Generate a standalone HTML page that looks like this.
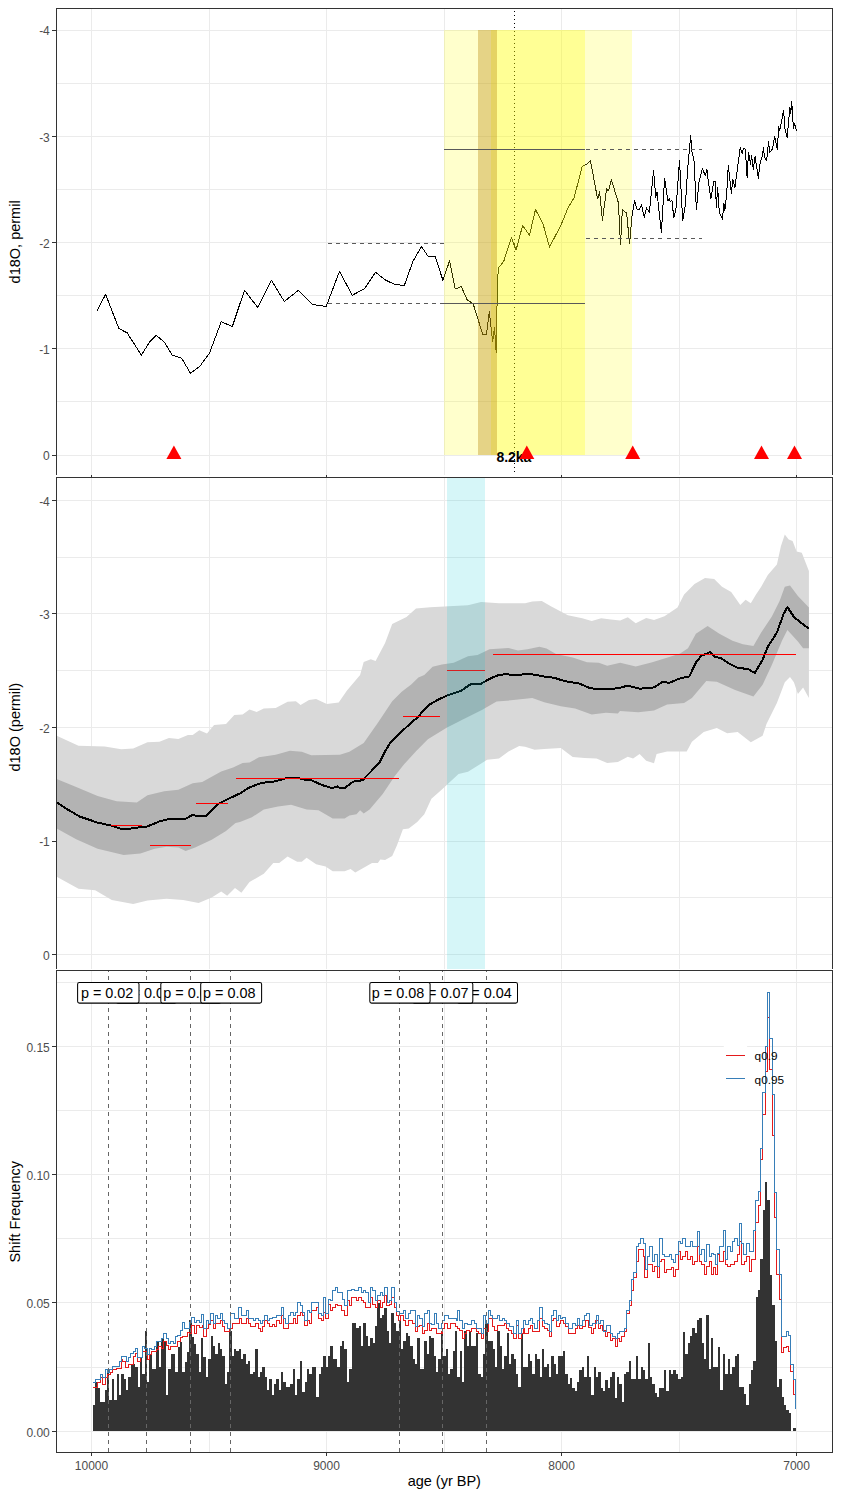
<!DOCTYPE html>
<html lang="en"><head><meta charset="utf-8"><title>d18O shift frequency</title>
<style>html,body{margin:0;padding:0;background:#fff}body{width:841px;height:1498px;overflow:hidden}svg{display:block}</style></head>
<body>
<svg width="841" height="1498" viewBox="0 0 841 1498" font-family='"Liberation Sans", Arial, sans-serif'>
<rect width="841" height="1498" fill="#fff"/>
<defs>
<clipPath id="c1"><rect x="56.5" y="8.5" width="776.0" height="466.5"/></clipPath>
<clipPath id="c2"><rect x="56.5" y="477.5" width="776.0" height="491.5"/></clipPath>
<clipPath id="c3"><rect x="56.5" y="970.5" width="776.0" height="482.0"/></clipPath>
</defs>
<g clip-path="url(#c1)" fill="none" stroke="#ebebeb" stroke-width="1" shape-rendering="crispEdges">
<path d="M56.5 455.5H832.5"/>
<path d="M56.5 401.5H832.5"/>
<path d="M56.5 348.5H832.5"/>
<path d="M56.5 295.5H832.5"/>
<path d="M56.5 242.5H832.5"/>
<path d="M56.5 189.5H832.5"/>
<path d="M56.5 136.5H832.5"/>
<path d="M56.5 83.5H832.5"/>
<path d="M56.5 30.5H832.5"/>
<path d="M209.5 8.5V475"/>
<path d="M444.5 8.5V475"/>
<path d="M679.5 8.5V475"/>
<path d="M91.5 8.5V475"/>
<path d="M326.5 8.5V475"/>
<path d="M561.5 8.5V475"/>
<path d="M796.5 8.5V475"/>
</g>
<g clip-path="url(#c1)">
<polyline points="97.2,310.5 105.6,294.4 118.9,328.6 127.1,332.8 141.4,355.2 149.4,342.3 156.2,335.4 164.6,342.3 172.2,355.2 181.7,358.3 190.5,373.3 200,366.1 209.5,353 221.3,321.6 232.3,326.7 244.5,290.2 257.7,307.5 271.4,280.3 284.3,301.4 298.4,290.4 312.3,304.1 317.1,305.4 326.2,306.4 339.5,271.4 352.3,295.3 364.6,288.5 375.5,272.3 385.5,280.1 394.5,284.3 404.3,285.5 412.8,261.7 421.4,246.5 428.6,257 435.3,256.4 442.9,280.4 449.6,260.8 455.3,289 461.3,286.5 467.1,299.8 473.1,303.6 482.7,334.4 486.5,334.4 489.3,311.2 492.7,341.7 494.5,327.4 496.2,353.1 497.5,277.9 498.8,267.5 503.8,261.2 511.4,237.6 516.1,250 522.6,225.6 529.5,235.1 535.5,209.4 543.2,224.6 549.5,247.1 560.9,225.2 568.2,207.5 574.2,197.6 582.2,166.2 586.6,164.3 590.4,160.3 597.6,199 599.6,191.9 602.4,220.3 606.6,188.9 608.5,190.8 611.3,179.9 614.2,188.9 618.4,202.8 620.5,244.6 622.4,209.4 626.6,213.2 629.6,243.7 632.1,215.1 634.6,200.9 637,208.9 639.3,209.8 641.4,204.7 644.3,217.4 646.5,207.9 649.4,212.3 653.6,170.4 655.7,197.1 657,192.3 661.4,232.3 664.6,178.6 667.9,200.9 669.4,199 670.3,201.4 671.9,199.9 673.8,218 676,208.5 679.5,160.3 682.7,220.8 685.5,203.7 687.4,172.3 690.7,135.2 691.8,151.5 693.9,158.7 696.4,209.5 698.9,182.7 702.5,168.5 705.2,175.6 706.9,169.4 707.8,177.4 710.9,199.1 713.7,181.8 715.3,181.8 716.4,207.7 717.6,187.2 719.4,213.1 722.5,219.3 723.9,203.3 724.8,210.4 726.6,195.2 728.3,165.3 731.4,193.4 732.8,179.2 734.9,187.7 740.3,147.4 742.1,153.3 743.5,148.5 745.3,149.2 747.1,177.4 748.5,152.4 750.6,164.9 751.5,155.1 753.3,169.4 755.1,156.3 758.3,178.3 760.1,163.1 762.2,156 763.5,148 764.6,157.8 766.7,160.4 768.5,141.7 769.9,152.4 772.4,148.9 774.7,136.4 777.4,149.7 778.6,126.6 779.7,131 783.6,110.5 784.9,128.3 787.2,137.3 789.9,106.9 790.8,113.2 791.7,101.1 793.4,128.3 794.3,123 796.5,130.7" fill="none" stroke="#000" stroke-width="1" stroke-linejoin="round" shape-rendering="crispEdges"/>
<path d="M514.5 472V8.5" stroke="#000" stroke-width="1" stroke-dasharray="1 3" fill="none" shape-rendering="crispEdges"/>
<g shape-rendering="crispEdges">
<rect x="444" y="30" width="188" height="425" fill="#ffff00" fill-opacity="0.2"/>
<rect x="491" y="30" width="94" height="425" fill="#ffff00" fill-opacity="0.27"/>
<rect x="478" y="30" width="19" height="425" fill="#b8860b" fill-opacity="0.36"/>
</g>
<g stroke="#595959" stroke-width="1" fill="none" shape-rendering="crispEdges">
<path d="M444 149.5H585"/>
<path d="M444 303.5H585"/>
<path d="M328 243.5H444" stroke-dasharray="4 4"/>
<path d="M328 303.5H444" stroke-dasharray="4 4"/>
<path d="M586 149.5H702" stroke-dasharray="4 4.05"/>
<path d="M586 238.5H702" stroke-dasharray="4 4.05"/>
</g>
<text x="513.9" y="461.8" font-size="14" font-weight="bold" text-anchor="middle" fill="#000">8.2ka</text>
<path d="M173.9 445.6L181.4 459H166.4Z" fill="#ff0000"/>
<path d="M526.8 445.6L534.3 459H519.3Z" fill="#ff0000"/>
<path d="M632.7 445.6L640.2 459H625.2Z" fill="#ff0000"/>
<path d="M761.5 445.6L769 459H754Z" fill="#ff0000"/>
<path d="M794.5 445.6L802 459H787Z" fill="#ff0000"/>
</g>
<path d="M56.5 475V8.5H832.5V475" fill="none" stroke="#333333" stroke-width="1" shape-rendering="crispEdges"/>
<g stroke="#333333" stroke-width="1" shape-rendering="crispEdges">
<path d="M52 455.5H56.5"/>
<path d="M52 348.5H56.5"/>
<path d="M52 242.5H56.5"/>
<path d="M52 136.5H56.5"/>
<path d="M52 30.5H56.5"/>
<path d="M91.5 475V477.5"/>
<path d="M326.5 475V477.5"/>
<path d="M561.5 475V477.5"/>
<path d="M796.5 475V477.5"/>
</g>
<g font-size="12" fill="#4d4d4d" text-anchor="end">
<text x="49.8" y="460.25">0</text>
<text x="49.8" y="354.05">-1</text>
<text x="49.8" y="247.85">-2</text>
<text x="49.8" y="141.65">-3</text>
<text x="49.8" y="35.45">-4</text>
</g>
<text transform="translate(19.7 241.9) rotate(-90)" font-size="14.5" text-anchor="middle" fill="#000">d18O, permil</text>
<g clip-path="url(#c2)" fill="none" stroke="#ebebeb" stroke-width="1" shape-rendering="crispEdges">
<path d="M56.5 954.5H832.5"/>
<path d="M56.5 897.5H832.5"/>
<path d="M56.5 841.5H832.5"/>
<path d="M56.5 784.5H832.5"/>
<path d="M56.5 727.5H832.5"/>
<path d="M56.5 670.5H832.5"/>
<path d="M56.5 613.5H832.5"/>
<path d="M56.5 557.5H832.5"/>
<path d="M56.5 500.5H832.5"/>
<path d="M209.5 477.5V969"/>
<path d="M444.5 477.5V969"/>
<path d="M679.5 477.5V969"/>
<path d="M91.5 477.5V969"/>
<path d="M326.5 477.5V969"/>
<path d="M561.5 477.5V969"/>
<path d="M796.5 477.5V969"/>
</g>
<g clip-path="url(#c2)">
<polygon points="56.7,735.8 78.5,745.8 104.7,746.5 121.3,749.3 133.2,748.4 147.5,742.2 159.4,741.7 168.9,738.1 178.4,738.9 187.9,735.1 192.7,735.1 199.3,730.3 207,733.4 214.1,725.1 226,723.9 234.3,715.1 242.6,714.4 249.5,709.6 256.6,712 263.8,708.4 275.7,707.9 287.6,701.8 295.9,701.3 300.6,704.9 309,700.1 316.1,698.9 326.8,704.1 338.7,702.5 347,690.6 360.1,675.1 363.7,662 370.8,659.2 375.6,660.9 385.1,643 392.2,624 406.5,616.9 416,608.5 430.2,607.3 453.8,605.9 468,605.2 481.1,602.1 499,603.3 525.1,603.3 532.3,601.6 541.8,601.1 551.3,606.4 567.9,615.2 582.2,618.3 591.7,621.1 601.2,618.3 610.7,619.5 620.2,620.6 627.8,617.3 635.7,623.3 646.2,618.1 654,619.9 664.5,616.3 677.5,607.6 684.1,594.5 694.5,584.1 705,578.1 714.2,578.9 722,586.7 731.2,591.9 740.3,605 745.6,599.8 750.8,603.2 756,594.5 761.2,586.7 767.8,574.9 776.9,564.5 780.9,546.2 784.8,534.4 788.7,539.6 792.6,540.9 796.6,551.4 801.8,552.7 808.9,571 808.9,697.9 803.1,687.4 797.9,693.9 793.9,682.2 790,676.9 784.8,682.2 776.9,703.1 766.5,724 762.6,735.8 750.8,742.3 737.7,731.9 727.2,733.2 716.8,728 703.7,731.9 691.9,741.8 686.7,751.5 667.1,751.5 656.6,754.1 654,763.3 646.2,760.7 639.6,754.1 633.1,758.6 627.8,756.7 617.9,762.1 607.2,762.9 596.5,758.6 584.6,757.9 572.7,756.9 560.8,747.9 544.2,749.1 534.6,749.8 525.1,746.7 519.2,746 508.5,751.4 499,758.6 487.1,759.8 468,771.7 458.5,774 441.9,789.5 431.4,798.8 424.3,814.2 417.2,822.1 408.8,828.5 402.9,829.2 397,845.2 392.2,855.9 385.1,860.1 380.3,859.4 377.9,863 372,863 363.7,867.8 355.3,872.5 350.6,868.9 344.6,871.3 332.7,871.3 325.6,866.6 316.1,864.2 306.6,857.8 301.8,861.8 297.1,861.8 287.6,856.6 279.2,863 273.3,863 263.8,873.7 249.5,882 241.4,892.7 235,888 227.2,895.8 221.2,891.5 211.7,897.5 198.6,902.9 183.2,899.9 166.5,898.7 147.5,900.6 133.2,903.9 111.8,899.9 95.2,890.3 78.5,888.7 56.7,876.8" fill="#d9d9d9"/>
<polygon points="56.7,779 76.2,786.9 97.6,795.9 116.6,801.2 136.8,802.4 147.5,795.2 164.2,791.2 178.4,789.8 192.7,783.3 202.2,782.1 221.2,771.4 233.1,767.4 242.6,763.1 249.5,762.6 259,757.2 275.7,754.8 289.9,750.8 301.8,751.7 311.3,755.3 339.9,754.8 349.4,751.7 363.7,742.9 377.9,722.7 392.2,701.3 401.7,691.8 411.2,684.6 418.4,677.5 424.3,675.1 432.6,666.8 441.9,664.6 453.8,662.7 468,656.3 477.6,655.1 489.5,649.2 508.5,648 518,650.4 527.5,649.2 539.4,646.8 546.5,648.5 556,653.9 572.7,657.5 587,662.3 598.8,662.7 607.2,665.8 620.2,662.7 635.7,666.5 651.4,662.6 664.5,658.6 680.2,653.4 688,648.2 695.9,633.8 707.6,625.9 719.4,633.8 732.5,640.8 742.9,644.2 753.4,646.1 761.2,632.5 771.7,616.8 779.6,601.1 784.8,586.7 790,585.4 797.9,595.9 808.9,607.6 808.9,648.2 803.1,648.2 797.9,641.6 787.4,629.9 782.2,640.3 771.7,665.2 762.6,684.8 753.4,696.6 735.1,690 716.8,681.7 706.3,680.9 691.9,697.9 684.1,703.1 667.1,704.4 654,710.4 638.3,712.3 620,710.9 617.9,713.4 606,712.7 591.7,714.6 575.1,708.6 560.8,706.3 544.2,702.2 532.3,697.9 510.9,700.3 496.6,701.5 482.3,709.8 463.3,719.3 446.6,727.7 427.9,739.3 416,751.2 404.1,764.3 394.6,776.2 382.7,794 369.6,809.5 363.7,813.5 360.1,810.2 356.5,814.2 349.4,815.4 344.6,818.5 332.7,818.5 318.5,810.2 306.6,809.5 291.1,804.7 278,806.4 263.8,809.5 251.9,817.3 240,822.1 235.5,823 226,830.9 211.7,839.7 195.1,847.5 185.6,851.1 178.4,847.5 166.5,846.8 154.6,848.7 140.4,853.5 123.7,855.1 97.6,848.7 76.2,839.2 56.7,828.5" fill="#b3b3b3"/>
<polyline points="56.7,802.4 66.6,808.8 79.7,816.6 97.6,822.6 111.8,825.7 121.3,829 128.5,829 134.4,827.8 146.3,826.8 152.3,824.5 159.4,821.4 168.9,819 186.7,818.5 192,815 197.4,815.9 206.5,815.9 212.9,808.8 218.8,803.5 228.4,798.8 240.2,793.3 249.5,787.4 261.4,782.9 273.3,781.7 287.6,777.9 298.3,777.9 301.8,779.3 311.3,780.2 322,785 331.6,788.1 337.5,786.4 339.9,788.1 344.6,788.1 353,781.7 362.5,780.2 379.1,763.1 385.1,751.2 389.8,743.6 397,735.8 411.2,722.7 418.4,716.7 423.1,710.8 430.2,704.1 437.1,700.3 446.6,695.6 460.9,690.8 470.4,684.4 479.9,684.4 489.5,678.9 497.8,675.3 506.1,674.1 515.6,675.3 525.1,674.1 534.6,674.6 544.2,676.5 553.7,677.7 565.6,681.3 579.8,683.7 590.5,688.4 603.6,688.9 617.9,688.4 627.8,685.6 639.6,688.7 654,687.4 661.9,682.2 669.7,682.7 680.2,678.3 689.3,676.4 695.9,662.6 701.1,656 710.2,652.1 714.2,656.5 720.7,658.1 728.6,663.3 737.7,667.8 748.2,669.1 754.7,673 762.6,659.9 767.8,646.9 776.9,632.5 783.5,614.2 787.4,607.1 793.9,616.8 800.5,622.5 808.9,628.6" fill="none" stroke="#000" stroke-width="2" stroke-linejoin="round" shape-rendering="crispEdges"/>
<path d="M110.6 825.5H141.6" stroke="#ff0000" stroke-width="1" shape-rendering="crispEdges"/>
<path d="M149.9 845.5H190.8" stroke="#ff0000" stroke-width="1" shape-rendering="crispEdges"/>
<path d="M195.8 803.5H227.9" stroke="#ff0000" stroke-width="1" shape-rendering="crispEdges"/>
<path d="M236.2 778.5H398.9" stroke="#ff0000" stroke-width="1" shape-rendering="crispEdges"/>
<path d="M402.9 716.5H440.0" stroke="#ff0000" stroke-width="1" shape-rendering="crispEdges"/>
<path d="M447.1 670.5H484.9" stroke="#ff0000" stroke-width="1" shape-rendering="crispEdges"/>
<path d="M493.0 654.5H795.8" stroke="#ff0000" stroke-width="1" shape-rendering="crispEdges"/>
<rect x="447" y="470" width="38" height="510" fill="#00c5d6" fill-opacity="0.16" shape-rendering="crispEdges"/>
</g>
<path d="M56.5 969V477.5H832.5V969" fill="none" stroke="#333333" stroke-width="1" shape-rendering="crispEdges"/>
<g stroke="#333333" stroke-width="1" shape-rendering="crispEdges">
<path d="M52 954.5H56.5"/>
<path d="M52 841.5H56.5"/>
<path d="M52 727.5H56.5"/>
<path d="M52 613.5H56.5"/>
<path d="M52 500.5H56.5"/>
</g>
<g font-size="12" fill="#4d4d4d" text-anchor="end">
<text x="49.8" y="959.8">0</text>
<text x="49.8" y="846.25">-1</text>
<text x="49.8" y="732.7">-2</text>
<text x="49.8" y="619.15">-3</text>
<text x="49.8" y="505.6">-4</text>
</g>
<text transform="translate(19.6 727.2) rotate(-90)" font-size="14.5" text-anchor="middle" fill="#000">d18O (permil)</text>
<g clip-path="url(#c3)" fill="none" stroke="#ebebeb" stroke-width="1" shape-rendering="crispEdges">
<path d="M56.5 1431.5H832.5"/>
<path d="M56.5 1367.5H832.5"/>
<path d="M56.5 1302.5H832.5"/>
<path d="M56.5 1238.5H832.5"/>
<path d="M56.5 1174.5H832.5"/>
<path d="M56.5 1110.5H832.5"/>
<path d="M56.5 1046.5H832.5"/>
<path d="M56.5 982.5H832.5"/>
<path d="M209.5 970.5V1452.5"/>
<path d="M444.5 970.5V1452.5"/>
<path d="M679.5 970.5V1452.5"/>
<path d="M91.5 970.5V1452.5"/>
<path d="M326.5 970.5V1452.5"/>
<path d="M561.5 970.5V1452.5"/>
<path d="M796.5 970.5V1452.5"/>
</g>
<g clip-path="url(#c3)">
<path d="M93 1430.8v-25.4h2.37v25.4zM95.35 1430.8v-49.23h2.37v49.23zM97.7 1430.8v-43.24h2.37v43.24zM100.05 1430.8v-28.54h2.37v28.54zM102.4 1430.8v-28.54h2.37v28.54zM104.75 1430.8v-40.38h2.37v40.38zM107.1 1430.8v-62.07h2.37v62.07zM109.45 1430.8v-30.68h2.37v30.68zM111.8 1430.8v-51.37h2.37v51.37zM114.15 1430.8v-30.68h2.37v30.68zM116.5 1430.8v-56.36h2.37v56.36zM118.85 1430.8v-35.67h2.37v35.67zM121.2 1430.8v-56.36h2.37v56.36zM123.55 1430.8v-51.37h2.37v51.37zM125.9 1430.8v-40.38h2.37v40.38zM128.25 1430.8v-53.51h2.37v53.51zM130.6 1430.8v-65.64h2.37v65.64zM132.95 1430.8v-66.35h2.37v66.35zM135.3 1430.8v-63.5h2.37v63.5zM137.65 1430.8v-43.52h2.37v43.52zM140 1430.8v-73.49h2.37v73.49zM142.35 1430.8v-56.36h2.37v56.36zM144.7 1430.8v-99.89h2.37v99.89zM147.05 1430.8v-48.52h2.37v48.52zM149.4 1430.8v-75.63h2.37v75.63zM151.75 1430.8v-61.36h2.37v61.36zM154.1 1430.8v-61.36h2.37v61.36zM156.45 1430.8v-89.18h2.37v89.18zM158.8 1430.8v-63.5h2.37v63.5zM161.15 1430.8v-92.04h2.37v92.04zM163.5 1430.8v-89.18h2.37v89.18zM165.85 1430.8v-35.67h2.37v35.67zM168.2 1430.8v-61.36h2.37v61.36zM170.55 1430.8v-76.34h2.37v76.34zM172.9 1430.8v-76.34h2.37v76.34zM175.25 1430.8v-58.5h2.37v58.5zM177.6 1430.8v-84.19h2.37v84.19zM179.95 1430.8v-89.18h2.37v89.18zM182.3 1430.8v-58.5h2.37v58.5zM184.65 1430.8v-69.21h2.37v69.21zM187 1430.8v-79.2h2.37v79.2zM189.35 1430.8v-110.59h2.37v110.59zM191.7 1430.8v-94.18h2.37v94.18zM194.05 1430.8v-87.04h2.37v87.04zM196.4 1430.8v-76.34h2.37v76.34zM198.75 1430.8v-58.5h2.37v58.5zM201.1 1430.8v-92.32h2.37v92.32zM203.45 1430.8v-74.2h2.37v74.2zM205.8 1430.8v-54.08h2.37v54.08zM208.15 1430.8v-71.63h2.37v71.63zM210.5 1430.8v-94.46h2.37v94.46zM212.85 1430.8v-84.47h2.37v84.47zM215.2 1430.8v-76.91h2.37v76.91zM217.55 1430.8v-87.33h2.37v87.33zM219.9 1430.8v-81.62h2.37v81.62zM222.25 1430.8v-74.77h2.37v74.77zM224.6 1430.8v-46.95h2.37v46.95zM226.95 1430.8v-58.79h2.37v58.79zM229.3 1430.8v-100.17h2.37v100.17zM231.65 1430.8v-74.77h2.37v74.77zM234 1430.8v-81.62h2.37v81.62zM236.35 1430.8v-79.48h2.37v79.48zM238.7 1430.8v-81.62h2.37v81.62zM241.05 1430.8v-71.63h2.37v71.63zM243.4 1430.8v-76.63h2.37v76.63zM245.75 1430.8v-66.64h2.37v66.64zM248.1 1430.8v-69.49h2.37v69.49zM250.45 1430.8v-56.65h2.37v56.65zM252.8 1430.8v-58.79h2.37v58.79zM255.15 1430.8v-81.62h2.37v81.62zM257.5 1430.8v-53.8h2.37v53.8zM259.85 1430.8v-58.79h2.37v58.79zM262.2 1430.8v-63.5h2.37v63.5zM264.55 1430.8v-53.8h2.37v53.8zM266.9 1430.8v-40.95h2.37v40.95zM269.25 1430.8v-51.66h2.37v51.66zM271.6 1430.8v-35.96h2.37v35.96zM273.95 1430.8v-46.66h2.37v46.66zM276.3 1430.8v-51.66h2.37v51.66zM278.65 1430.8v-40.95h2.37v40.95zM281 1430.8v-58.79h2.37v58.79zM283.35 1430.8v-48.8h2.37v48.8zM285.7 1430.8v-43.81h2.37v43.81zM288.05 1430.8v-43.81h2.37v43.81zM290.4 1430.8v-46.95h2.37v46.95zM292.75 1430.8v-61.64h2.37v61.64zM295.1 1430.8v-35.96h2.37v35.96zM297.45 1430.8v-51.66h2.37v51.66zM299.8 1430.8v-69.49h2.37v69.49zM302.15 1430.8v-38.81h2.37v38.81zM304.5 1430.8v-48.8h2.37v48.8zM306.85 1430.8v-61.64h2.37v61.64zM309.2 1430.8v-56.65h2.37v56.65zM311.55 1430.8v-63.5h2.37v63.5zM313.9 1430.8v-63.5h2.37v63.5zM316.25 1430.8v-33.82h2.37v33.82zM318.6 1430.8v-56.65h2.37v56.65zM320.95 1430.8v-63.5h2.37v63.5zM323.3 1430.8v-74.77h2.37v74.77zM325.65 1430.8v-63.78h2.37v63.78zM328 1430.8v-74.77h2.37v74.77zM330.35 1430.8v-84.47h2.37v84.47zM332.7 1430.8v-71.63h2.37v71.63zM335.05 1430.8v-71.63h2.37v71.63zM337.4 1430.8v-63.78h2.37v63.78zM339.75 1430.8v-84.47h2.37v84.47zM342.1 1430.8v-89.9h2.37v89.9zM344.45 1430.8v-81.62h2.37v81.62zM346.8 1430.8v-48.8h2.37v48.8zM349.15 1430.8v-61.64h2.37v61.64zM351.5 1430.8v-107.59h2.37v107.59zM353.85 1430.8v-107.59h2.37v107.59zM356.2 1430.8v-103.03h2.37v103.03zM358.55 1430.8v-104.74h2.37v104.74zM360.9 1430.8v-84.47h2.37v84.47zM363.25 1430.8v-107.59h2.37v107.59zM365.6 1430.8v-94.46h2.37v94.46zM367.95 1430.8v-84.47h2.37v84.47zM370.3 1430.8v-92.61h2.37v92.61zM372.65 1430.8v-87.76h2.37v87.76zM375 1430.8v-104.74h2.37v104.74zM377.35 1430.8v-128.28h2.37v128.28zM379.7 1430.8v-112.59h2.37v112.59zM382.05 1430.8v-115.44h2.37v115.44zM384.4 1430.8v-122.57h2.37v122.57zM386.75 1430.8v-99.46h2.37v99.46zM389.1 1430.8v-87.76h2.37v87.76zM391.45 1430.8v-117.58h2.37v117.58zM393.8 1430.8v-107.59h2.37v107.59zM396.15 1430.8v-99.46h2.37v99.46zM398.5 1430.8v-110.16h2.37v110.16zM400.85 1430.8v-81.62h2.37v81.62zM403.2 1430.8v-89.9h2.37v89.9zM405.55 1430.8v-97.6h2.37v97.6zM407.9 1430.8v-94.46h2.37v94.46zM410.25 1430.8v-84.47h2.37v84.47zM412.6 1430.8v-71.63h2.37v71.63zM414.95 1430.8v-66.64h2.37v66.64zM417.3 1430.8v-92.61h2.37v92.61zM419.65 1430.8v-61.64h2.37v61.64zM422 1430.8v-61.64h2.37v61.64zM424.35 1430.8v-89.9h2.37v89.9zM426.7 1430.8v-76.63h2.37v76.63zM429.05 1430.8v-94.46h2.37v94.46zM431.4 1430.8v-92.61h2.37v92.61zM433.75 1430.8v-74.77h2.37v74.77zM436.1 1430.8v-58.79h2.37v58.79zM438.45 1430.8v-71.63h2.37v71.63zM440.8 1430.8v-100.17h2.37v100.17zM443.15 1430.8v-74.77h2.37v74.77zM445.5 1430.8v-81.62h2.37v81.62zM447.85 1430.8v-56.65h2.37v56.65zM450.2 1430.8v-61.64h2.37v61.64zM452.55 1430.8v-79.48h2.37v79.48zM454.9 1430.8v-99.46h2.37v99.46zM457.25 1430.8v-53.8h2.37v53.8zM459.6 1430.8v-79.48h2.37v79.48zM461.95 1430.8v-48.8h2.37v48.8zM464.3 1430.8v-99.46h2.37v99.46zM466.65 1430.8v-84.47h2.37v84.47zM469 1430.8v-99.46h2.37v99.46zM471.35 1430.8v-84.47h2.37v84.47zM473.7 1430.8v-84.47h2.37v84.47zM476.05 1430.8v-97.6h2.37v97.6zM478.4 1430.8v-56.65h2.37v56.65zM480.75 1430.8v-53.8h2.37v53.8zM483.1 1430.8v-76.63h2.37v76.63zM485.45 1430.8v-107.59h2.37v107.59zM487.8 1430.8v-89.9h2.37v89.9zM490.15 1430.8v-89.9h2.37v89.9zM492.5 1430.8v-81.62h2.37v81.62zM494.85 1430.8v-63.78h2.37v63.78zM497.2 1430.8v-99.46h2.37v99.46zM499.55 1430.8v-84.47h2.37v84.47zM501.9 1430.8v-61.64h2.37v61.64zM504.25 1430.8v-74.77h2.37v74.77zM506.6 1430.8v-97.6h2.37v97.6zM508.95 1430.8v-66.64h2.37v66.64zM511.3 1430.8v-76.63h2.37v76.63zM513.65 1430.8v-71.63h2.37v71.63zM516 1430.8v-56.65h2.37v56.65zM518.35 1430.8v-43.81h2.37v43.81zM520.7 1430.8v-97.6h2.37v97.6zM523.05 1430.8v-63.78h2.37v63.78zM525.4 1430.8v-63.78h2.37v63.78zM527.75 1430.8v-76.63h2.37v76.63zM530.1 1430.8v-69.49h2.37v69.49zM532.45 1430.8v-56.65h2.37v56.65zM534.8 1430.8v-76.63h2.37v76.63zM537.15 1430.8v-71.63h2.37v71.63zM539.5 1430.8v-53.8h2.37v53.8zM541.85 1430.8v-81.62h2.37v81.62zM544.2 1430.8v-63.78h2.37v63.78zM546.55 1430.8v-66.64h2.37v66.64zM548.9 1430.8v-53.8h2.37v53.8zM551.25 1430.8v-74.77h2.37v74.77zM553.6 1430.8v-66.64h2.37v66.64zM555.95 1430.8v-56.31h2.37v56.31zM558.3 1430.8v-74.42h2.37v74.42zM560.65 1430.8v-74.42h2.37v74.42zM563 1430.8v-79.33h2.37v79.33zM565.35 1430.8v-56.31h2.37v56.31zM567.7 1430.8v-46.34h2.37v46.34zM570.05 1430.8v-53.25h2.37v53.25zM572.4 1430.8v-43.27h2.37v43.27zM574.75 1430.8v-40.2h2.37v40.2zM577.1 1430.8v-48.34h2.37v48.34zM579.45 1430.8v-61.22h2.37v61.22zM581.8 1430.8v-63.68h2.37v63.68zM584.15 1430.8v-53.55h2.37v53.55zM586.5 1430.8v-74.42h2.37v74.42zM588.85 1430.8v-53.55h2.37v53.55zM591.2 1430.8v-35.6h2.37v35.6zM593.55 1430.8v-63.68h2.37v63.68zM595.9 1430.8v-53.55h2.37v53.55zM598.25 1430.8v-58.62h2.37v58.62zM600.6 1430.8v-43.27h2.37v43.27zM602.95 1430.8v-40.2h2.37v40.2zM605.3 1430.8v-50.94h2.37v50.94zM607.65 1430.8v-43.27h2.37v43.27zM610 1430.8v-53.55h2.37v53.55zM612.35 1430.8v-58.62h2.37v58.62zM614.7 1430.8v-33.3h2.37v33.3zM617.05 1430.8v-53.55h2.37v53.55zM619.4 1430.8v-46.34h2.37v46.34zM621.75 1430.8v-28.69h2.37v28.69zM624.1 1430.8v-56.31h2.37v56.31zM626.45 1430.8v-58.62h2.37v58.62zM628.8 1430.8v-69.36h2.37v69.36zM631.15 1430.8v-51.4h2.37v51.4zM633.5 1430.8v-51.4h2.37v51.4zM635.85 1430.8v-74.42h2.37v74.42zM638.2 1430.8v-51.4h2.37v51.4zM640.55 1430.8v-63.68h2.37v63.68zM642.9 1430.8v-61.22h2.37v61.22zM645.25 1430.8v-51.4h2.37v51.4zM647.6 1430.8v-87.31h2.37v87.31zM649.95 1430.8v-53.55h2.37v53.55zM652.3 1430.8v-46.34h2.37v46.34zM654.65 1430.8v-38.21h2.37v38.21zM657 1430.8v-33.6h2.37v33.6zM659.35 1430.8v-43.27h2.37v43.27zM661.7 1430.8v-43.27h2.37v43.27zM664.05 1430.8v-61.22h2.37v61.22zM666.4 1430.8v-40.2h2.37v40.2zM668.75 1430.8v-61.22h2.37v61.22zM671.1 1430.8v-56.31h2.37v56.31zM673.45 1430.8v-61.22h2.37v61.22zM675.8 1430.8v-56.31h2.37v56.31zM678.15 1430.8v-51.4h2.37v51.4zM680.5 1430.8v-53.55h2.37v53.55zM682.85 1430.8v-99.28h2.37v99.28zM685.2 1430.8v-76.57h2.37v76.57zM687.55 1430.8v-87.31h2.37v87.31zM689.9 1430.8v-94.37h2.37v94.37zM692.25 1430.8v-102.35h2.37v102.35zM694.6 1430.8v-97.74h2.37v97.74zM696.95 1430.8v-110.33h2.37v110.33zM699.3 1430.8v-112.32h2.37v112.32zM701.65 1430.8v-87.31h2.37v87.31zM704 1430.8v-71.66h2.37v71.66zM706.35 1430.8v-115.39h2.37v115.39zM708.7 1430.8v-61.68h2.37v61.68zM711.05 1430.8v-92.37h2.37v92.37zM713.4 1430.8v-63.68h2.37v63.68zM715.75 1430.8v-63.68h2.37v63.68zM718.1 1430.8v-84.24h2.37v84.24zM720.45 1430.8v-40.66h2.37v40.66zM722.8 1430.8v-76.57h2.37v76.57zM725.15 1430.8v-56.62h2.37v56.62zM727.5 1430.8v-71.66h2.37v71.66zM729.85 1430.8v-56.62h2.37v56.62zM732.2 1430.8v-63.68h2.37v63.68zM734.55 1430.8v-74.42h2.37v74.42zM736.9 1430.8v-76.57h2.37v76.57zM739.25 1430.8v-43.73h2.37v43.73zM741.6 1430.8v-43.73h2.37v43.73zM743.95 1430.8v-36.37h2.37v36.37zM746.3 1430.8v-25.63h2.37v25.63zM748.65 1430.8v-46.34h2.37v46.34zM751 1430.8v-61.22h2.37v61.22zM753.35 1430.8v-69.36h2.37v69.36zM755.7 1430.8v-133.34h2.37v133.34zM758.05 1430.8v-140.71h2.37v140.71zM760.4 1430.8v-171.4h2.37v171.4zM762.75 1430.8v-221.1h2.37v221.1zM765.1 1430.8v-249h2.37v249zM767.45 1430.8v-231h2.37v231zM769.8 1430.8v-156.3h2.37v156.3zM772.15 1430.8v-126.3h2.37v126.3zM774.5 1430.8v-89.9h2.37v89.9zM776.85 1430.8v-44.1h2.37v44.1zM779.2 1430.8v-51.7h2.37v51.7zM781.55 1430.8v-34h2.37v34zM783.9 1430.8v-25.7h2.37v25.7zM786.25 1430.8v-21h2.37v21zM788.6 1430.8v-18.1h2.37v18.1zM793.3 1430.8v-2.8h2.37v2.8z" fill="#333333" shape-rendering="crispEdges"/>
<path d="M93 1387.5V1387.5H97.5V1382.5H100.5V1377.5H102.5V1384.5H105.5V1377.5H107.5V1374.5H110.5V1372.5H112.5V1369.5H116.5V1368.5H121.5V1359.5H122.5V1361.5H125.5V1367.5H128.5V1364.5H130.5V1364.5H133.5V1356.5H135.5V1353.5H137.5V1361.5H140.5V1357.5H142.5V1351.5H144.5V1351.5H147.5V1359.5H149.5V1354.5H151.5V1351.5H156.5V1349.5H158.5V1346.5H161.5V1348.5H163.5V1341.5H166.5V1345.5H168.5V1349.5H170.5V1346.5H177.5V1341.5H180.5V1337.5H182.5V1336.5H187.5V1332.5H189.5V1333.5H191.5V1325.5H194.5V1333.5H196.5V1325.5H199.5V1327.5H202.5V1325.5H203.5V1336.5H206.5V1328.5H208.5V1326.5H208.5V1324.5H210.5V1320.5H213.5V1328.5H215.5V1323.5H220.5V1320.5H222.5V1326.5H224.5V1331.5H229.5V1328.5H232.5V1323.5H239.5V1318.5H241.5V1323.5H246.5V1318.5H248.5V1323.5H250.5V1326.5H255.5V1323.5H258.5V1328.5H260.5V1331.5H262.5V1326.5H264.5V1320.5H267.5V1323.5H269.5V1326.5H272.5V1324.5H274.5V1326.5H276.5V1320.5H279.5V1323.5H281.5V1315.5H283.5V1328.5H288.5V1323.5H293.5V1318.5H295.5V1323.5H297.5V1315.5H300.5V1312.5H302.5V1315.5H304.5V1325.5H307.5V1320.5H309.5V1323.5H311.5V1310.5H314.5V1310.5H316.5V1307.5H318.5V1318.5H321.5V1320.5H323.5V1312.5H325.5V1312.5H325.5V1318.5H328.5V1304.5H330.5V1310.5H332.5V1307.5H335.5V1304.5H337.5V1305.5H341.5V1310.5H344.5V1315.5H347.5V1300.5H349.5V1305.5H351.5V1297.5H356.5V1300.5H358.5V1297.5H361.5V1300.5H363.5V1302.5H365.5V1307.5H370.5V1297.5H372.5V1304.5H375.5V1307.5H377.5V1300.5H380.5V1307.5H382.5V1302.5H384.5V1295.5H386.5V1305.5H389.5V1304.5H391.5V1297.5H394.5V1307.5H396.5V1315.5H398.5V1320.5H400.5V1315.5H403.5V1320.5H405.5V1325.5H408.5V1320.5H412.5V1323.5H415.5V1331.5H417.5V1326.5H419.5V1325.5H422.5V1333.5H424.5V1330.5H427.5V1323.5H429.5V1330.5H431.5V1328.5H436.5V1333.5H441.5V1331.5H442.5V1333.5H442.5V1328.5H444.5V1323.5H447.5V1328.5H450.5V1323.5H455.5V1326.5H457.5V1328.5H459.5V1330.5H462.5V1338.5H464.5V1333.5H466.5V1330.5H469.5V1331.5H471.5V1328.5H476.5V1331.5H478.5V1333.5H481.5V1338.5H483.5V1328.5H486.5V1331.5H488.5V1318.5H492.5V1326.5H494.5V1330.5H497.5V1325.5H504.5V1323.5H506.5V1328.5H508.5V1330.5H511.5V1333.5H513.5V1338.5H516.5V1325.5H518.5V1338.5H521.5V1333.5H523.5V1328.5H524.5V1333.5H528.5V1328.5H530.5V1325.5H532.5V1331.5H534.5V1331.5H539.5V1318.5H542.5V1326.5H544.5V1328.5H547.5V1330.5H549.5V1336.5H551.5V1320.5H553.5V1318.5H556.5V1326.5H559.5V1323.5H560.5V1320.5H563.5V1323.5H565.5V1326.5H568.5V1333.5H575.5V1328.5H577.5V1325.5H579.5V1328.5H582.5V1326.5H585.5V1320.5H588.5V1327.5H591.5V1333.5H593.5V1328.5H595.5V1320.5H598.5V1328.5H600.5V1325.5H602.5V1330.5H605.5V1336.5H607.5V1332.5H610.5V1340.5H612.5V1338.5H615.5V1346.5H617.5V1338.5H619.5V1341.5H621.5V1336.5H624.5V1331.5H626.5V1313.5H629.5V1305.5H631.5V1290.5H633.5V1277.5H636.5V1261.5H638.5V1249.5H643.5V1256.5H644.5V1277.5H647.5V1264.5H652.5V1271.5H654.5V1266.5H657.5V1277.5H659.5V1261.5H661.5V1259.5H664.5V1272.5H666.5V1269.5H671.5V1267.5H673.5V1276.5H675.5V1269.5H678.5V1251.5H680.5V1259.5H682.5V1256.5H685.5V1251.5H687.5V1259.5H690.5V1256.5H692.5V1264.5H694.5V1261.5H697.5V1246.5H699.5V1261.5H701.5V1264.5H704.5V1274.5H706.5V1266.5H709.5V1261.5H711.5V1274.5H713.5V1267.5H715.5V1274.5H717.5V1254.5H719.5V1261.5H723.5V1251.5H725.5V1264.5H727.5V1266.5H730.5V1264.5H734.5V1261.5H737.5V1254.5H739.5V1241.5H741.5V1264.5H744.5V1261.5H746.5V1256.5H749.5V1271.5H751.5V1259.5H753.5V1259.5H755.5V1222.5H758.5V1205.5H760.5V1159.5H762.5V1114.5H765.5V1071.5H767.5V1017.5H769.5V1069.5H772.5V1135.5H774.5V1217.5H776.5V1274.5H779.5V1299.5H781.5V1352.5H783.5V1347.5H786.5V1346.5H788.5V1351.5H790.5V1371.5H793.5V1394.5H795.5V1408.5" fill="none" stroke="#e41a1c" stroke-width="1" shape-rendering="crispEdges"/>
<path d="M93 1382.5V1382.5H95.5V1379.5H100.5V1374.5H102.5V1377.5H105.5V1369.5H107.5V1372.5H109.5V1369.5H112.5V1366.5H115.5V1366.5H119.5V1361.5H121.5V1356.5H123.5V1356.5H126.5V1361.5H128.5V1357.5H130.5V1353.5H133.5V1351.5H135.5V1348.5H137.5V1357.5H142.5V1346.5H144.5V1348.5H147.5V1354.5H149.5V1348.5H151.5V1349.5H154.5V1346.5H156.5V1341.5H161.5V1338.5H163.5V1333.5H166.5V1338.5H168.5V1343.5H170.5V1341.5H173.5V1343.5H175.5V1336.5H177.5V1335.5H180.5V1330.5H182.5V1322.5H184.5V1328.5H187.5V1328.5H189.5V1322.5H191.5V1317.5H194.5V1322.5H196.5V1320.5H199.5V1322.5H201.5V1314.5H203.5V1328.5H206.5V1320.5H208.5V1320.5H208.5V1323.5H210.5V1313.5H213.5V1323.5H215.5V1315.5H217.5V1318.5H220.5V1313.5H222.5V1320.5H224.5V1323.5H227.5V1328.5H230.5V1313.5H234.5V1318.5H238.5V1307.5H241.5V1315.5H246.5V1310.5H248.5V1318.5H253.5V1320.5H255.5V1318.5H258.5V1320.5H260.5V1323.5H262.5V1320.5H264.5V1315.5H267.5V1320.5H269.5V1318.5H272.5V1317.5H276.5V1315.5H281.5V1307.5H283.5V1318.5H285.5V1323.5H288.5V1315.5H290.5V1312.5H293.5V1315.5H295.5V1312.5H297.5V1302.5H300.5V1305.5H302.5V1312.5H304.5V1320.5H307.5V1310.5H309.5V1312.5H311.5V1302.5H318.5V1313.5H321.5V1315.5H323.5V1297.5H325.5V1297.5H325.5V1313.5H328.5V1299.5H330.5V1300.5H332.5V1290.5H335.5V1287.5H337.5V1292.5H342.5V1299.5H344.5V1305.5H347.5V1290.5H351.5V1289.5H354.5V1290.5H358.5V1287.5H361.5V1292.5H363.5V1290.5H365.5V1292.5H368.5V1302.5H370.5V1287.5H372.5V1290.5H375.5V1300.5H377.5V1295.5H380.5V1292.5H382.5V1295.5H384.5V1287.5H387.5V1302.5H389.5V1300.5H391.5V1287.5H394.5V1302.5H396.5V1311.5H399.5V1313.5H403.5V1310.5H405.5V1318.5H408.5V1313.5H410.5V1310.5H415.5V1326.5H417.5V1315.5H419.5V1318.5H422.5V1326.5H424.5V1313.5H427.5V1310.5H429.5V1323.5H431.5V1324.5H434.5V1313.5H436.5V1323.5H438.5V1328.5H441.5V1323.5H442.5V1320.5H444.5V1315.5H448.5V1318.5H456.5V1320.5H457.5V1310.5H459.5V1320.5H462.5V1328.5H464.5V1323.5H467.5V1324.5H471.5V1320.5H474.5V1323.5H476.5V1328.5H481.5V1333.5H483.5V1315.5H485.5V1323.5H488.5V1310.5H490.5V1315.5H492.5V1318.5H497.5V1315.5H499.5V1320.5H502.5V1318.5H504.5V1320.5H506.5V1323.5H509.5V1326.5H513.5V1333.5H516.5V1320.5H518.5V1333.5H521.5V1328.5H523.5V1320.5H525.5V1324.5H528.5V1320.5H530.5V1318.5H532.5V1323.5H534.5V1328.5H537.5V1320.5H539.5V1307.5H542.5V1320.5H544.5V1323.5H547.5V1324.5H549.5V1331.5H551.5V1315.5H553.5V1310.5H556.5V1320.5H558.5V1315.5H559.5V1315.5H560.5V1318.5H562.5V1317.5H565.5V1323.5H568.5V1328.5H572.5V1323.5H575.5V1325.5H577.5V1318.5H579.5V1325.5H582.5V1320.5H584.5V1315.5H586.5V1313.5H589.5V1325.5H592.5V1323.5H596.5V1315.5H598.5V1323.5H600.5V1320.5H603.5V1331.5H606.5V1325.5H610.5V1333.5H612.5V1336.5H615.5V1338.5H617.5V1333.5H619.5V1331.5H624.5V1328.5H626.5V1310.5H629.5V1300.5H631.5V1279.5H633.5V1272.5H636.5V1246.5H638.5V1243.5H640.5V1238.5H643.5V1243.5H645.5V1269.5H647.5V1256.5H649.5V1246.5H652.5V1261.5H654.5V1254.5H657.5V1266.5H659.5V1238.5H662.5V1254.5H664.5V1256.5H669.5V1254.5H671.5V1259.5H673.5V1262.5H675.5V1254.5H678.5V1241.5H680.5V1243.5H682.5V1238.5H685.5V1246.5H690.5V1241.5H692.5V1246.5H697.5V1231.5H699.5V1254.5H701.5V1249.5H704.5V1261.5H706.5V1244.5H709.5V1256.5H711.5V1253.5H713.5V1254.5H715.5V1264.5H717.5V1253.5H719.5V1246.5H723.5V1230.5H725.5V1259.5H727.5V1246.5H730.5V1251.5H732.5V1241.5H734.5V1238.5H737.5V1245.5H739.5V1223.5H741.5V1243.5H743.5V1254.5H746.5V1243.5H749.5V1251.5H753.5V1230.5H755.5V1200.5H758.5V1191.5H760.5V1148.5H762.5V1092.5H765.5V1046.5H767.5V992.5H769.5V1038.5H772.5V1094.5H774.5V1192.5H776.5V1249.5H779.5V1274.5H781.5V1336.5H783.5V1336.5H786.5V1331.5H788.5V1335.5H790.5V1364.5H793.5V1379.5H795.5V1408.5" fill="none" stroke="#377eb8" stroke-width="1" shape-rendering="crispEdges"/>
<path d="M108.5 1452.4V970.5" stroke="#666666" stroke-width="1" stroke-dasharray="4 4" fill="none" shape-rendering="crispEdges"/>
<path d="M146.5 1452.4V970.5" stroke="#666666" stroke-width="1" stroke-dasharray="4 4" fill="none" shape-rendering="crispEdges"/>
<path d="M190.5 1452.4V970.5" stroke="#666666" stroke-width="1" stroke-dasharray="4 4" fill="none" shape-rendering="crispEdges"/>
<path d="M230.5 1452.4V970.5" stroke="#666666" stroke-width="1" stroke-dasharray="4 4" fill="none" shape-rendering="crispEdges"/>
<path d="M399.5 1452.4V970.5" stroke="#666666" stroke-width="1" stroke-dasharray="4 4" fill="none" shape-rendering="crispEdges"/>
<path d="M442.5 1452.4V970.5" stroke="#666666" stroke-width="1" stroke-dasharray="4 4" fill="none" shape-rendering="crispEdges"/>
<path d="M486.5 1452.4V970.5" stroke="#666666" stroke-width="1" stroke-dasharray="4 4" fill="none" shape-rendering="crispEdges"/>
<rect x="116.1" y="982.5" width="60.4" height="20.6" rx="1.8" fill="#fff" stroke="#000" stroke-width="1.05"/>
<text x="119.55" y="998.3" font-size="14.4" fill="#000">p = 0.05</text>
<rect x="77.6" y="982.5" width="61.4" height="20.6" rx="1.8" fill="#fff" stroke="#000" stroke-width="1.05"/>
<text x="80.95" y="998.3" font-size="14.4" fill="#000">p = 0.02</text>
<rect x="160.8" y="982.5" width="60.3" height="20.6" rx="1.8" fill="#fff" stroke="#000" stroke-width="1.05"/>
<text x="163.25" y="998.3" font-size="14.4" fill="#000">p = 0.05</text>
<rect x="200.7" y="982.5" width="60.9" height="20.6" rx="1.8" fill="#fff" stroke="#000" stroke-width="1.05"/>
<text x="203.05" y="998.3" font-size="14.4" fill="#000">p = 0.08</text>
<rect x="457.2" y="982.5" width="60.3" height="20.6" rx="1.8" fill="#fff" stroke="#000" stroke-width="1.05"/>
<text x="459.25" y="998.3" font-size="14.4" fill="#000">p = 0.04</text>
<rect x="412.5" y="982.5" width="60.3" height="20.6" rx="1.8" fill="#fff" stroke="#000" stroke-width="1.05"/>
<text x="416" y="998.3" font-size="14.4" fill="#000">p = 0.07</text>
<rect x="369.8" y="982.5" width="60.3" height="20.6" rx="1.8" fill="#fff" stroke="#000" stroke-width="1.05"/>
<text x="371.75" y="998.3" font-size="14.4" fill="#000">p = 0.08</text>
<rect x="723.8" y="1043.8" width="23.3" height="46.1" fill="#fff"/>
<path d="M726.3 1055.5H744.9" stroke="#e41a1c" stroke-width="1" shape-rendering="crispEdges"/>
<path d="M726.3 1078.5H744.9" stroke="#377eb8" stroke-width="1" shape-rendering="crispEdges"/>
<text x="754.6" y="1060.2" font-size="11.8" fill="#000">q0.9</text>
<text x="754.6" y="1083.5" font-size="11.8" fill="#000">q0.95</text>
</g>
<path d="M56.5 970.5H832.5V1452.5H56.5Z" fill="none" stroke="#333333" stroke-width="1" shape-rendering="crispEdges"/>
<g stroke="#333333" stroke-width="1" shape-rendering="crispEdges">
<path d="M52 1431.5H56.5"/>
<path d="M52 1302.5H56.5"/>
<path d="M52 1174.5H56.5"/>
<path d="M52 1046.5H56.5"/>
<path d="M91.5 1452.5V1456"/>
<path d="M326.5 1452.5V1456"/>
<path d="M561.5 1452.5V1456"/>
<path d="M796.5 1452.5V1456"/>
</g>
<g font-size="12" fill="#4d4d4d" text-anchor="end">
<text x="49.8" y="1436.8">0.00</text>
<text x="49.8" y="1308.47">0.05</text>
<text x="49.8" y="1180.13">0.10</text>
<text x="49.8" y="1051.8">0.15</text>
</g>
<g font-size="12" fill="#4d4d4d" text-anchor="middle">
<text x="91.5" y="1470">10000</text>
<text x="326.53" y="1470">9000</text>
<text x="561.56" y="1470">8000</text>
<text x="796.59" y="1470">7000</text>
</g>
<text x="444.3" y="1486" font-size="14.5" text-anchor="middle" fill="#000">age (yr BP)</text>
<text transform="translate(19.5 1211.8) rotate(-90)" font-size="14.5" text-anchor="middle" fill="#000">Shift Frequency</text>
</svg>
</body></html>
